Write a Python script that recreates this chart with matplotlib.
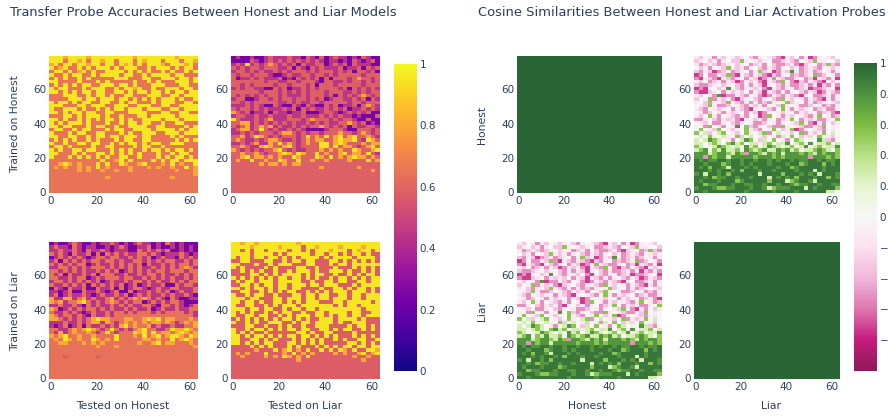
import numpy as np
import matplotlib
matplotlib.use("Agg")
import matplotlib.pyplot as plt
from matplotlib.colors import LinearSegmentedColormap, Normalize
from matplotlib.cm import ScalarMappable

W, H = 888, 416
INK = "#2a3f5f"
plt.rcParams["font.family"] = ["DejaVu Sans"]

plasma = ["#0d0887", "#46039f", "#7201a8", "#9c179e", "#bd3786", "#d8576b", "#ed7953", "#fb9f3a", "#fdca26", "#f0f921"]
piyg = ["#8e1a5a", "#c51b7d", "#de77ae", "#f1b6da", "#fde0ef", "#f7f7f7", "#e6f5d0", "#b8e186", "#7fbc41", "#4d9240", "#2a6535"]
cm_acc = LinearSegmentedColormap.from_list("plasma_pl", plasma)
cm_cos = LinearSegmentedColormap.from_list("piyg_pl", piyg)

# 2x2 layer blocks, top row first
acc_honest_honest = [
"yyyoyyyyoyyyyyyyyyoyyyyyyyyoyyyy",
"yyy.yyoy.yyoyy.yyy.yoyyy.yyy.yyo",
"oy.yy.yyoyy.yy.yoy.y.yyyo.yyyoy.",
"y.oy..y.y.yyy.y.yyy..y.yyy.y.yy.",
".yy.y.oy.y..yyyy.y.y.y..y.y..y.y",
"y..y.yy..y.yyyy.yy..y.yyyy.yy...",
".y.y..y.y.....yyy...yy..yyy.yy.y",
"yy....y...y.y.....y..y.y...yyy.y",
".y.y.y.yy..yyy.yy.y...yyy...yy..",
"y.yy...y.yyy..y.yyoy..y..yyy.yy.",
"yy.y.y.yy.yy..yy.y.yy.yy.y.yy.yy",
"...yyy..y.yy.y..yy...yyy..yy.yyy",
"....yyy.yy.yyy.yy.y.y.y.yyy.y..y",
"y.yy.y.yy..yy..y.yy...y.yyy..yy.",
"yyy...yy.yyy..yyy..yyy..yy..yyyy",
"y..yyy.y..y.y.yy.yyy.yyy..yy.yyy",
"yy.y.yy.yy..yy...yyyy...yy..yy..",
"...yy.y.yyy.y..y...yy.yyyyy.yyyy",
"yy.y..y.y.y.yy.y.y..yyyy.yyy.yyy",
"y.y.yyy.y...y..y.yy.yy..y..yy...",
"yy.yy...y.yy..y..yyyy..yy....y.y",
".yy..y.yy...y.yy..yyyy.yyyy.y.yy",
"y...y.yy..yy...y.y..yyy..yyy.yyy",
"yy..yy..y.yy.yy.yyy.yy....y.y...",
".y.y.y..y.y...y.yy..yy.....y.y.y",
"y..y..yy.yy..y.y.yy.y.yy..yyy...",
".yy.y....y..yy....y.yy..y.......",
"y.y..yy.yy...y.y.y..y.yy.y.yy.y.",
"yy...y.y..yy.y.y.y.y...y..y.yy..",
"y...y.y.y.y.y..yy..y...y.y.yy.y.",
"...........y..oy.y....y.y.yy.yyy",
"..oyo.o...y.y..yo..oy...o.y.o..y",
".o.o..o.o.y.o....o...o.o..o..y.o",
"......o.o..o..o..o.........o...o",
"...............................o",
"............o.............o.....",
"................................",
"................................",
"................................",
"................................",
]
acc_honest_liar = [
"dpddpddp.ppp.ppd.pd.dp.ppdpd.pdd",
"dddd.pdp.p.p.p.p.p.pdppdpd.pdp.d",
"p.pyp.p.o.p.p.d.pp..dp.p.d.pppdd",
".p.p..p...pp.d.pd.p.ppp.dpp.d.p.",
"p..p.p.pp.p.p...p.p...p.p.d..p.d",
".p..p...pddp.pp..p..p.p.....p...",
".dpp.p.ppp.dpd.p.p.d.d...p.o..p.",
".......p..pp..p...pd..pp.p..p.p.",
"..p.p....p..p...p.d...p.....p...",
"p.p..ppdd.p.dpp.p.p....p.d.p.p.p",
"......p...p.p.p.p...p...pp.p.p..",
".p.p.p.p..p.ppp.p...p.d.p.p.o.p.",
"p..ddp..p.p..p..p.p.dp..pp.p.d.p",
"..p.p.....pp.p.pp..p.....p..p...",
"ppp.p.pdd.pdd.pd.pdd.p.dpp.d.o.p",
".p..p.p.ppp.p.d.p.pp.p.p.dpp.p.p",
"o.p.dpp.d.ppdpp.dddp..pdp.p.p.dd",
"p..pp.pp.ppp.pp.ppp.p.p.ppdpddd.",
"y.ppp.p.oppp...p.o...p.p..pdd.dd",
"..oop.p.p.p.p.pp.p.p.pp..o.p.dpd",
".p.op.o.op.pp.p.p..o.p.p.d.pp..p",
"p.oop.y.p.pp.p.pddddp...pdd...p.",
"pp.p.p...p.oo.p.p..p...o..p.o.p.",
"..op.yo.p.p...p.y.o.y.oy.oy..o.p",
".o.pp.p.oo.pp.p.o.oo..oyooy.pyo.",
"pp.p.oppo.y.o.p.o..yy.oyo...o.oo",
"..o.ppoyo..oy.p....yy.y.oo.p.oy.",
"o.p.p.p..oy.p.pp...o.o.o..yo..oy",
"..o..o.p..oyo.yo..y.o..oy.oo.y.p",
"..oy.oo.o.o..yo...yo.y.o.oyoo.o.",
".o..y..o..yo..y..o..o....o...y.o",
"......o.oo.o.oo.................",
"...................o.......o....",
"..............................o.",
"................................",
"................................",
"................................",
"................................",
"................................",
"................................",
]
acc_liar_honest = [
"dpddp.pddpdpp.pdpdp.ppdpd.pdpddd",
"p.ppd.pdppddpdp.pddpp.dpddpdpdpd",
"pp.pp.pd.pp.pdpppdd.p.p.p.ddpdpd",
".p.pd.pp.d.d.p.p.pp..p.pdppp.pdp",
"dp.p.p.pdp..p..pp.p.p.dp.ppd.p.p",
"p.d.p.p.p..p..p.pp..p.p.p..pp.p.",
".p.p.p..dp.pp.p.p.p.d.pp.p.p..p.",
"pp..p.p.p...p.p.p.p.pp.p.p.p.o.p",
"..p.p.p.pp.p.p.dp.p.p.p..p...p..",
".p.d.pp.p.d...pp.pp.p..p.pp.p.p.",
"..pp.p..dp.p...p..pp.p.p.p.pp.p.",
"p..p.p.p.p.dp.pp.p..p.p.pp.p.p..",
".pp.p.p.d.p.p.p.dp.dp.pp.dd.p..p",
"d.pd.pp.dd.pp.d.dp..pdp.pp..ppp.",
"ppdp.dd.pp.pdp.dd.dpp.p.p.dp.pp.",
"p.dp.pp.pdp.pp.p.dp.p.pp.p.pp.pd",
"oppoop.op.pp.op.p.o.o.p.pd.pddpp",
"o.op..oy.p.p.o.p.p..dp.p.p..pddd",
"pp.pp.pd.p.pp.p.p.pp..pd..p.pdp.",
"o.dp.p.p..p.p.pp.p.pp.dp.pp.pp..",
".pp.p.pdp.pp.p..p.p...p.p....p.p",
"o.p..p.pd.pp.p.................p",
"oo.p.p.p.oyoo...oo..oyoy.oo...o.",
"ppp.pp.p.oopo.p.o.o.o.oo.o.p.o.o",
"pdp.dp.d.pp.p.poy.o..op.pp.pp..o",
"..pp.o.oyo.p.y.p.p.oy..pp.yooyo.",
".pop.o..o.p.y.p...yoy.y.oo.oyo.o",
"o.oy..o..o....y...o.y.oy.oyyo.yo",
".o.yo.o..yo.o.y.....oo.o..y.oyo.",
"..oo...o.o.o.......o..oy.oo...o.",
"..........o...o................o",
"................................",
"................................",
"...v......v.....................",
"................................",
"................................",
"................................",
"................................",
"................................",
"................................",
]
acc_liar_liar = [
"yyoyyoyyyyyyyyoyyyyyyyyyyyyyyyyy",
"yyyyoyyyyyoyyyy.yyoyyyyoyyyyoyyy",
"yy.y.yy.yyyy.yy.y.yyyoyyy.yoyy.y",
"yyyy.yyyy.y.yyyyy.yy.yy.y.yy.y..",
"y.yy.yy.yy.y.y.yyyy.y.yyyy.yyyy.",
"..yy...yy..y.yy.yy...yy.y.y.y.y.",
"yy...y..y.yyy...yy...y.yy.yyyyyy",
"y.y....y.y....yy..y...y...y.y.y.",
"..y.y.y..y..y.yyy.y..yyy.y..y.y.",
"....yy.y.y.yyyy.y.yy..y..y.y.yy.",
"y.y.y.y.y.yy.yy.y.y..y.yy.y.y.yy",
".y.yy.yyy.yyyyy..y..yy.yy..yy.yy",
"..yy.y.yy.yy.yyy.yy.yyy...y.yyyy",
"yy.y.yy.y.yy.yy....y..yy.y.yy.y.",
"..yy..y.y.y.yy..y.y.y.yyy.yyy.y.",
"y..y.yy..y...yy.yy.yy..yy.yy.yyy",
"yyy.yy...yy.yyy.yy.yy.yyy.yy.yyy",
"yy.yy.y..yy.y.y.yyy...yy.yyyyy.y",
"y..yy..y.y.yyy.yyyyyyy.y.yy.yyyy",
"yyy.yy.yy..y.yy.yy.yyyyyyyyy.yyy",
"y.y.y..y.y.yy..y..yy.yyyy.yy..yy",
"y..yy.yy..y.y.yyy.yy.y.yy.yy.yyy",
".y.y.y.y.y.yy.y.y..yyy.yyyy.y...",
"y..y.y..yyy..y.yy.yyyy.y..yyy...",
"...yy..y..y.y..y..yyy....y.yy.y.",
"y..y.yy.y.y.yy.yy..yy.y.yy..y.y.",
"y.y.y..y......yy.y..yy....y.....",
"yy.y.yy.y.y.yy.yy.y.y.y...y.y.y.",
"yy..yy.y.y...y.y.y.y..y.y..yy..y",
"yy.y.y.yy...yy.y.y.y.....yy.y.y.",
"....y.y.y...y.y...y.y.y.yy.yy.yy",
".....o...y.oy.o.y..y.y.yo.y..yyo",
".o.o...y...o.y.o.o....o.o..oy.oy",
"..o....o.o.yo.o.y.........o..o..",
"..............o.............o...",
"................................",
"................................",
"................................",
"................................",
"................................",
]
cos_honest_liar = [
"fpwfrfpwfpfwprfwfprmfpwrfmrfwfpw",
"pfwpfrfwpplfwfpfwrrpfprwfplffwwp",
"frpfprpfwpfwrpfrwprrpfrmpfwrplpr",
"wpfrwfplfpfrfwprfprfwpfrpfprwfpf",
"prfpmrpfrpfwrflpfmrfpgfrpfrpwfrf",
"mrwrrfplrmfprfprmprfwrprpflrpwfr",
"rmfprmfprfwrfpmrflfprrfwrpmfprfm",
"fpwrpfrfpmrfpfrmfprlfrmprfprmfpf",
"prrpfwpfwprfrfpmfwprfrrpfrfmprfr",
"mrmfwpfgwprffpwrmfprfwrpfmrrpfwm",
"rmmpfwrfpfpwrfpmfprfrfwprfpmrfpr",
"fpwfrgmrrfprwfrmrfprfprmfwrrpfrf",
"pwflrfpfrmpfwprfwprlfpwfrfprmfrf",
"fwprfwplfprfrfrprfwflpfwrfrpfwfp",
"wfplfrrpwfprfpfrwfplfwfrrpwfrprf",
"fprwfpfwrfprmfwfprwlfrfpfwrpfrrf",
"wfrpwfrfpfwrfpmrfwfpfwrfpfwrpfrm",
"fpwlfrwfprfrwfmrlwfrfpwfprflwfrp",
"rrfwprfpfrmfwpfrfwrpflwrfpfrrfwl",
"wfpwrrfwprfwfrrpwfrfwfplfrmfrwpf",
"fwrlwfrwfgwlprfwprrlfwfprrfplwfw",
"wlwfplwfpfwlfprwflwpflmrfwfprwfw",
"lwepwelwfpwlfwelrwewfpwlrfpflwew",
"wewlfwefwlpwewfpwfrewlwpfewlwfpw",
"eweglewfrweglwpewlwfrwlewfwgeprw",
"eewelewlgelweefelweegwelfgweelwe",
"lewfeglewewgelweglewelwegfelweeg",
"elgwlegeelwglelgeeglgelweelglewl",
"gggelggleglrggleglgeggglgleglggl",
"ggrglggeggggglggglglgggggrggglgl",
"GgGggGGgGGgGGgGGgGgGGgGggGGgGggG",
"GGgGGGlgGGgGgGGGgGGGgGGlgGGGlGgG",
"GgGlGGgeGGGgGgGGGGgGGlgGGGGGgGGG",
"GGGgGgGGgGlGGGgGGgGGGGgGGGeGgGGG",
"gGeGGgGlGGGGGGeGGGGlGGGgGgGeGGGg",
"GGgGlggGGgGGgGGGeGgGgGlGGGgGGlGg",
"GgGGGgGGGlgGGGGGlGGGelgGGgeGGGGG",
"GGlggGGGgGGggGGgGGgGGglggGGgGGgg",
"gGGGgllggGGGgGGgelgggGGGeGgGGGGl",
"GGgGGGGGGGGgGGGGGgGGGGgGGGGGGeew",
]
cos_self = ["S" * 32] * 40

ACC_VALUES = {"y": 0.95, "o": 0.80, "p": 0.44, "d": 0.24, "v": 0.58}
COS_VALUES = {"S": 1.0, "G": 0.92, "g": 0.78, "l": 0.55, "e": 0.28, "w": 0.0,
              "f": -0.13, "p": -0.33, "r": -0.52, "m": -0.72}


def grid(rows, table, background=0.0):
    vals = [[table.get(c, background) for c in r.ljust(32, ".")[:32]] for r in rows]
    return np.array(vals)[::-1]


def make_axes(px_left, px_top, px_right, px_bottom):
    return fig.add_axes([px_left / W, 1 - px_bottom / H, (px_right - px_left) / W, (px_bottom - px_top) / H])


def panel(box, data, cmap, vmin, vmax):
    ax = make_axes(*box)
    xe = np.linspace(-0.5, 63.5, data.shape[1] + 1)
    ye = np.linspace(-0.5, 79.5, data.shape[0] + 1)
    ax.pcolormesh(xe, ye, data, cmap=cmap, vmin=vmin, vmax=vmax, rasterized=True)
    ax.set_xticks([0, 20, 40, 60])
    ax.set_yticks([0, 20, 40, 60])
    ax.tick_params(length=0, labelsize=7.5, colors=INK, pad=2)
    for s in ax.spines.values():
        s.set_visible(False)
    return ax


def colorbar(box, cmap, vmin, vmax, ticks, labels):
    cax = make_axes(*box)
    cb = fig.colorbar(ScalarMappable(Normalize(vmin, vmax), cmap), cax=cax)
    cb.set_ticks(ticks)
    cb.set_ticklabels(labels)
    cb.outline.set_visible(False)
    cax.tick_params(length=0, labelsize=7.5, colors=INK, pad=2)


def label(x, y, s, rot=0, ha="center", size=7.75):
    fig.text(x / W, 1 - y / H, s, rotation=rot, ha=ha, va="center", color=INK, fontsize=size)


fig = plt.figure(figsize=(W / 100, H / 100), dpi=100, facecolor="white")

L1, L2 = (49, 198), (231, 380)
R1, R2 = (517, 662), (694, 840)
T, B = (56, 193), (242, 379)

panel((L1[0], T[0], L1[1], T[1]), grid(acc_honest_honest, ACC_VALUES, 0.645), cm_acc, 0, 1)
panel((L2[0], T[0], L2[1], T[1]), grid(acc_honest_liar, ACC_VALUES, 0.585), cm_acc, 0, 1)
panel((L1[0], B[0], L1[1], B[1]), grid(acc_liar_honest, ACC_VALUES, 0.64), cm_acc, 0, 1)
panel((L2[0], B[0], L2[1], B[1]), grid(acc_liar_liar, ACC_VALUES, 0.575), cm_acc, 0, 1)

panel((R1[0], T[0], R1[1], T[1]), grid(cos_self, COS_VALUES), cm_cos, -1, 1)
panel((R2[0], T[0], R2[1], T[1]), grid(cos_honest_liar, COS_VALUES), cm_cos, -1, 1)
panel((R1[0], B[0], R1[1], B[1]), grid(cos_honest_liar, COS_VALUES), cm_cos, -1, 1)
panel((R2[0], B[0], R2[1], B[1]), grid(cos_self, COS_VALUES), cm_cos, -1, 1)

colorbar((394, 64, 417, 371), cm_acc, 0, 1, [0, .2, .4, .6, .8, 1], ["0", "0.2", "0.4", "0.6", "0.8", "1"])
colorbar((854, 63, 877, 371), cm_cos, -1, 1, [-.8, -.6, -.4, -.2, 0, .2, .4, .6, .8, 1],
         ["−0.8", "−0.6", "−0.4", "−0.2", "0", "0.2", "0.4", "0.6", "0.8", "1"])

label(10, 13, "Transfer Probe Accuracies Between Honest and Liar Models", ha="left", size=9.35)
label(478, 13, "Cosine Similarities Between Honest and Liar Activation Probes", ha="left", size=9.35)
label(15, 124, "Trained on Honest", rot=90)
label(15, 311, "Trained on Liar", rot=90)
label(123, 406, "Tested on Honest")
label(305, 406, "Tested on Liar")
label(482, 125, "Honest", rot=90)
label(482, 311, "Liar", rot=90)
label(587, 406, "Honest")
label(771, 406, "Liar")

fig.savefig("out.png", dpi=100)
